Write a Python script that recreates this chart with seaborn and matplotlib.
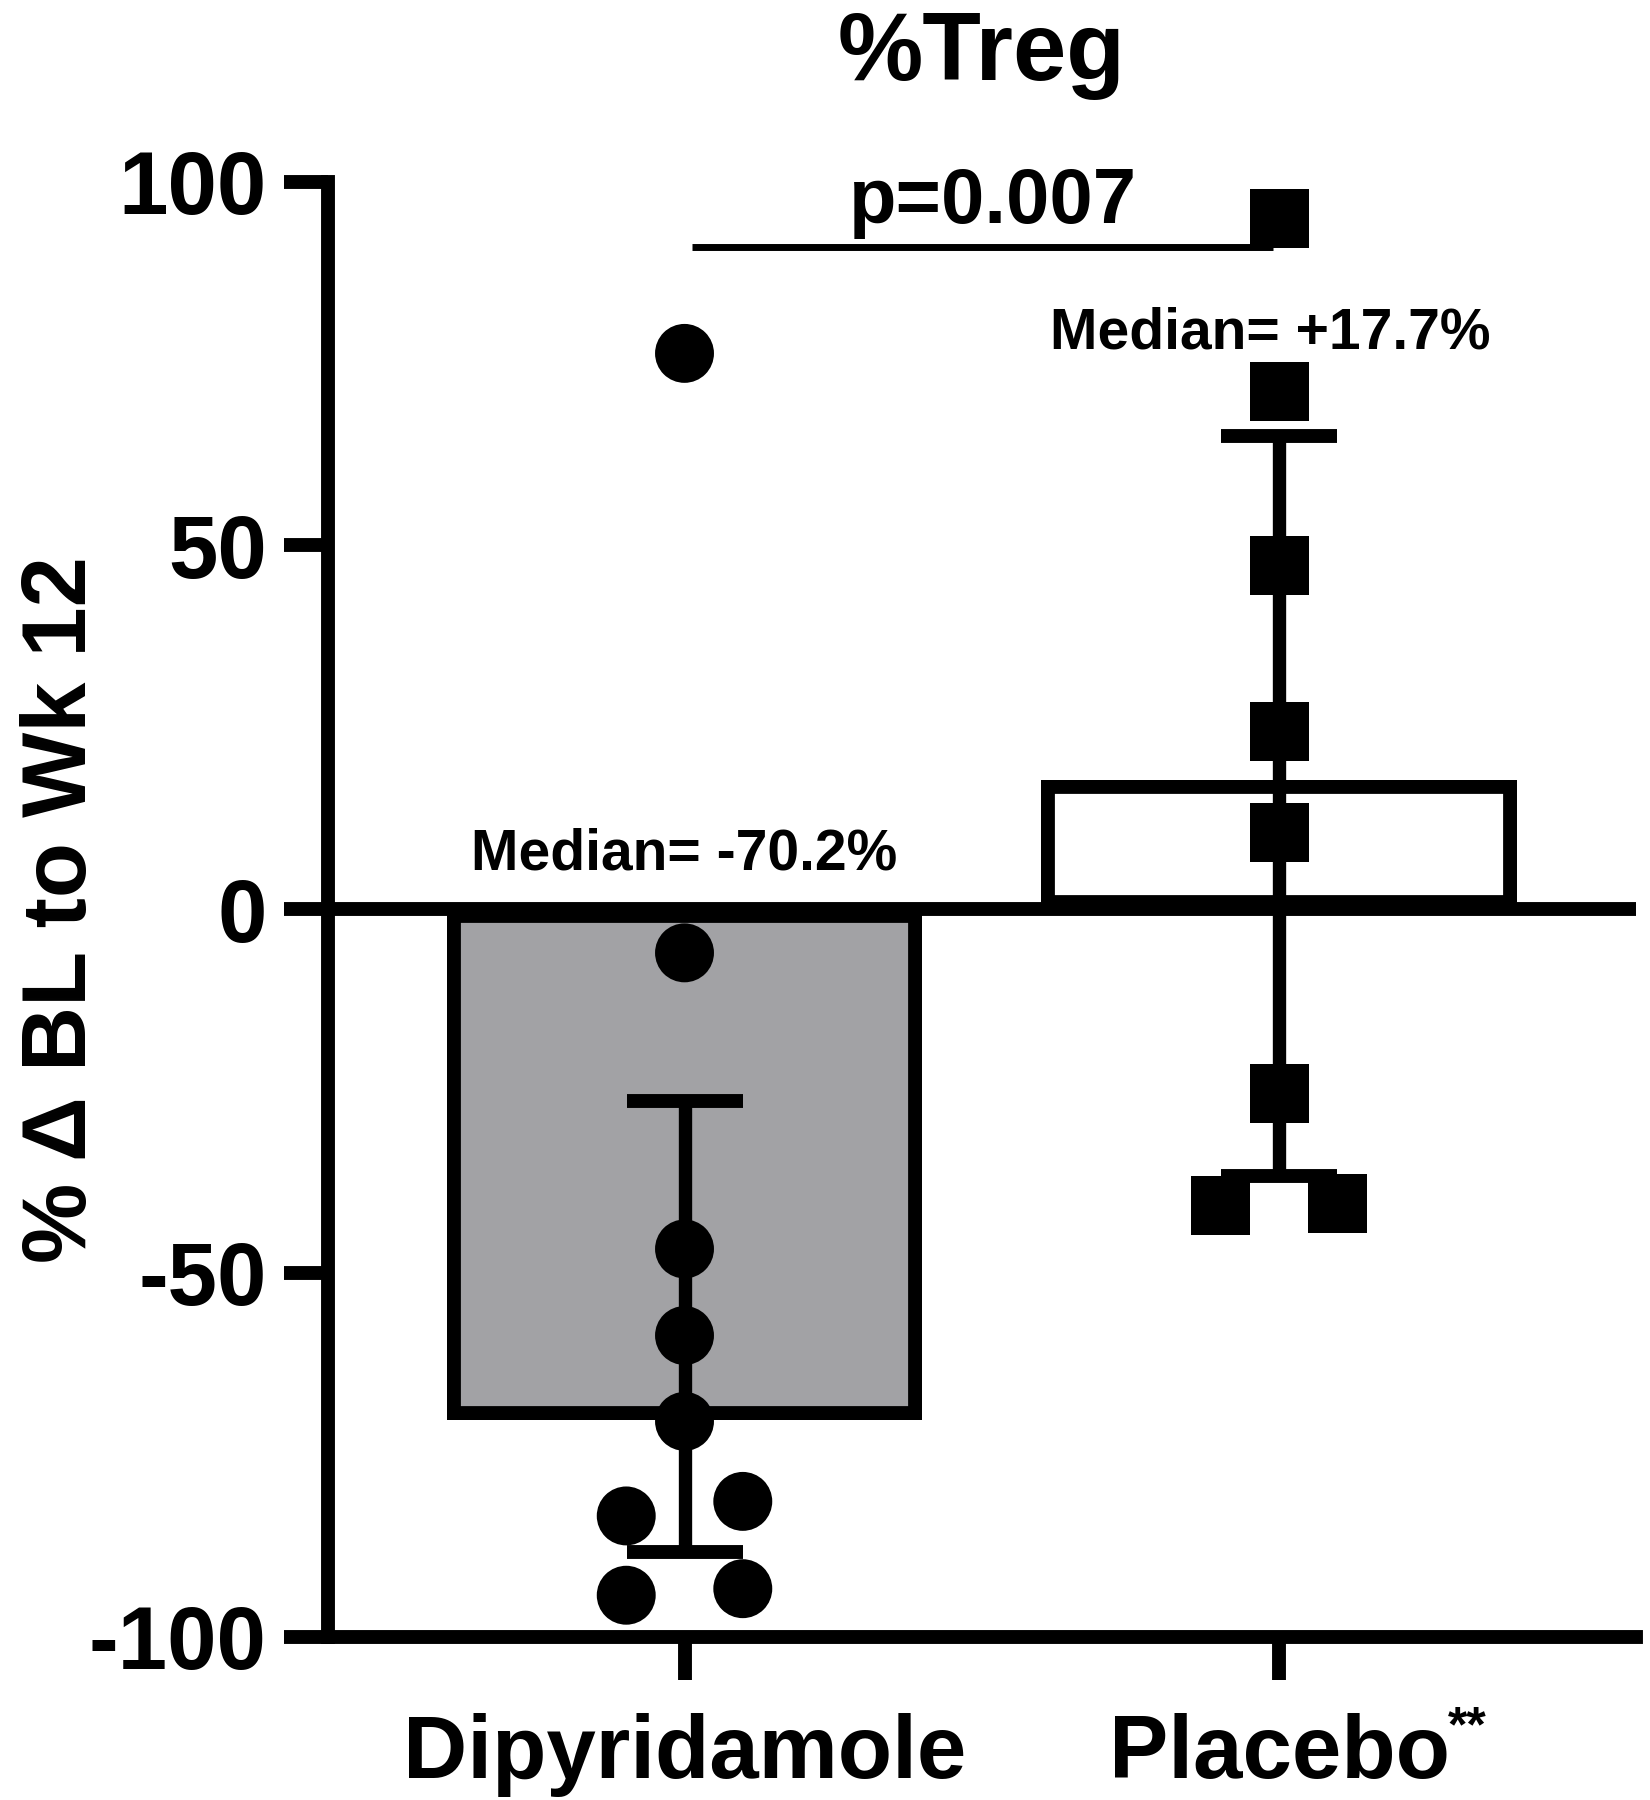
import numpy as np
import pandas as pd
import matplotlib
matplotlib.use("Agg")
import matplotlib.pyplot as plt
import seaborn as sns

# ---------------- data ----------------
groups = ["Dipyridamole", "Placebo"]
medians = [-70.2, 17.7]
err_low = [-88.3, -36.7]
err_high = [-26.4, 65.1]
dip_values = [76.4, -6.0, -46.7, -58.6, -70.4, -81.4, -83.4, -93.4, -94.3]
pla_values = [94.9, 71.1, 47.2, 24.4, 10.6, -25.3, -40.7, -40.4]
median_labels = ["Median= -70.2%", "Median= +17.7%"]
p_label = "p=0.007"
title = "%Treg"
ylabel = "% Δ BL to Wk 12"
yticks = [-100, -50, 0, 50, 100]
ytick_labels = ["-100", "-50", "0", "50", "100"]

# ---------------- layout (horizontal offsets of side-by-side points) ----------------
dip_dx = [0, 0, 0, 0, 0, 0.098, -0.098, 0.098, -0.098]
pla_dx = [0, 0, 0, 0, 0, 0, -0.098, 0.098]

sns.set_style("ticks")
plt.rcParams["font.family"] = ["Liberation Sans", "DejaVu Sans"]
plt.rcParams["font.weight"] = "bold"
plt.rcParams["axes.unicode_minus"] = False
for k in ["text.color", "axes.edgecolor", "axes.labelcolor",
          "xtick.color", "ytick.color"]:
    plt.rcParams[k] = "black"

W, H = 1650, 1800
fig = plt.figure(figsize=(W / 100, H / 100), dpi=100)
left, right, bottom, top = 327.7 / W, 1636 / W, 1 - 1636.7 / H, 1 - 181.7 / H
ax = fig.add_axes([left, bottom, right - left, top - bottom])

LW = 10

# bars (border drawn inside the bar, as in the original)
bar_df = pd.DataFrame({"group": groups, "median": medians})
sns.barplot(data=bar_df, x="group", y="median", hue="group", order=groups,
            palette=["#a2a1a6", "#ffffff"], width=0.8, edgecolor="black",
            linewidth=2 * LW, errorbar=None, legend=False, ax=ax, zorder=1)
for p in ax.patches:
    p.set_clip_path(p)

# zero line
ax.axhline(0, color="black", lw=LW, zorder=2)

# error bars
pos = np.arange(len(groups))
med = np.array(medians)
yerr = [med - np.array(err_low), np.array(err_high) - med]
ax.errorbar(pos, med, yerr=yerr, fmt="none", ecolor="black", elinewidth=9.6,
            capsize=42, capthick=10, zorder=3)

# points
pts = pd.DataFrame({
    "group": ["Dipyridamole"] * len(dip_values) + ["Placebo"] * len(pla_values),
    "value": dip_values + pla_values,
})
pts["x"] = [0 + d for d in dip_dx] + [1 + d for d in pla_dx]
sns.scatterplot(data=pts, x="x", y="value", style="group",
                markers={"Dipyridamole": "o", "Placebo": "s"},
                color="black", s=1800, linewidth=0, legend=False,
                ax=ax, zorder=4, clip_on=False)

# significance line and text
ax.plot([0.013, 0.99], [91.0, 91.0], color="black", lw=5,
        solid_capstyle="butt", zorder=3)
ax.text(0.518, 94.3, p_label, ha="center", va="baseline",
        fontsize=56, fontweight="bold")

# median labels
ax.text(0.0, 5.5, median_labels[0], ha="center", va="baseline",
        fontsize=41, fontweight="bold")
ax.text(0.985, 77.1, median_labels[1], ha="center", va="baseline",
        fontsize=41, fontweight="bold")

# axes styling
ax.set_xlim(-0.6, 1.6)
ax.set_ylim(-100, 100)
ax.set_yticks(yticks)
ax.set_yticklabels(ytick_labels)
ax.set_xticks(pos)
ax.set_xticklabels(groups)
for s in ["top", "right"]:
    ax.spines[s].set_visible(False)
for s in ["left", "bottom"]:
    ax.spines[s].set_linewidth(LW)
    ax.spines[s].set_capstyle("projecting")
    ax.spines[s].set_color("black")
ax.tick_params(axis="y", length=32, width=LW, pad=12, labelsize=64, colors="black")
ax.tick_params(axis="x", length=31, width=LW, pad=24, labelsize=64, colors="black")
for lab in ax.get_xticklabels() + ax.get_yticklabels():
    lab.set_fontweight("bold")

ax.set_xlabel("")
ax.set_ylabel(ylabel, fontsize=65, fontweight="bold", color="black")
ax.yaxis.set_label_coords((105 - 327.7) / (1636 - 327.7), 0.5)
ax.set_title(title, fontsize=69, fontweight="bold", pad=73, color="black")

# superscript ** on Placebo
fig.canvas.draw()
renderer = fig.canvas.get_renderer()
plab = ax.get_xticklabels()[1]
bb = plab.get_window_extent(renderer)
fig.text((bb.x1 - 2) / W, (bb.y1 + 8) / H, "**", ha="left", va="top",
         fontsize=36, fontweight="bold", color="black")

fig.savefig("out.png", dpi=100, facecolor="white")
